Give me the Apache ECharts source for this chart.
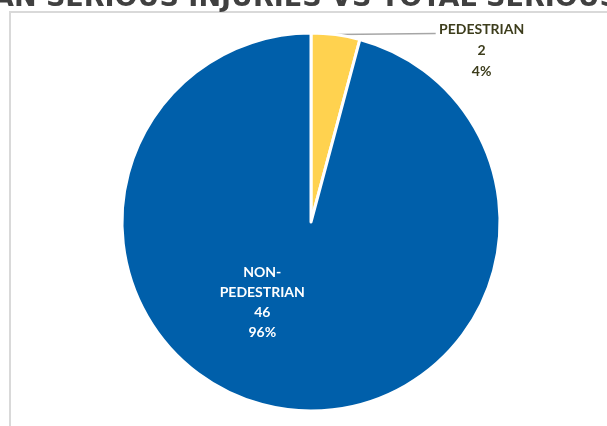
<!DOCTYPE html>
<html>
<head>
<meta charset="utf-8">
<script src="https://cdn.jsdelivr.net/npm/echarts@6/dist/echarts.min.js"></script>
<style>
html,body{margin:0;padding:0;background:#fff;}
#chart{width:607px;height:426px;}
</style>
</head>
<body>
<div id="chart"></div>
<script>
const titleText = 'PEDESTRIAN SERIOUS INJURIES VS TOTAL SERIOUS INJURIES';
const categories = ['PEDESTRIAN', 'NON-\nPEDESTRIAN'];
const values = [2, 46];
const colors = ['#FFD24F', '#005FAA'];

const chart = echarts.init(document.getElementById('chart'));
const total = values.reduce((a, b) => a + b, 0);

chart.setOption({
  animation: false,
  title: {
    text: titleText,
    left: 'center',
    top: -20,
    textStyle: {
      fontFamily: 'DejaVu Sans',
      fontWeight: 'bold',
      fontSize: 27,
      color: '#404040'
    }
  },
  graphic: [{
    type: 'rect',
    shape: { x: 10, y: 12, width: 700, height: 500 },
    style: { fill: 'none', stroke: '#d9d9d9', lineWidth: 2 },
    silent: true
  }],
  series: [{
    type: 'pie',
    center: [311, 222],
    radius: [0, 189],
    startAngle: 90,
    clockwise: true,
    avoidLabelOverlap: false,
    data: categories.map((c, i) => ({
      name: c,
      value: values[i],
      itemStyle: { color: colors[i] },
      label: i === 0 ? {
        position: 'outside',
        color: '#3d3d1c',
        lineHeight: 21
      } : {
        position: 'inside',
        color: '#ffffff',
        offset: [-36, -16]
      },
      labelLine: i === 0 ? { show: true, length: 0, length2: 100, lineStyle: { color: '#a6a6a6', width: 1.5 } } : { show: false }
    })),
    itemStyle: { borderColor: '#ffffff', borderWidth: 3 },
    label: {
      formatter: p => p.name + '\n' + p.value + '\n' + Math.round(p.value / total * 100) + '%',
      fontFamily: 'Lato',
      fontWeight: 'bold',
      fontSize: 14,
      lineHeight: 20,
      align: 'center'
    },
    labelLayout: params => {
      if (params.dataIndex !== 0) return {};
      const s = params.labelLinePoints[0];
      const e = [s[0] + 100, s[1] - 1];
      return {
        x: s[0] + 146, y: s[1] + 16, align: 'center', verticalAlign: 'middle',
        labelLinePoints: [s, e, e]
      };
    }
  }]
});
</script>
</body>
</html>
